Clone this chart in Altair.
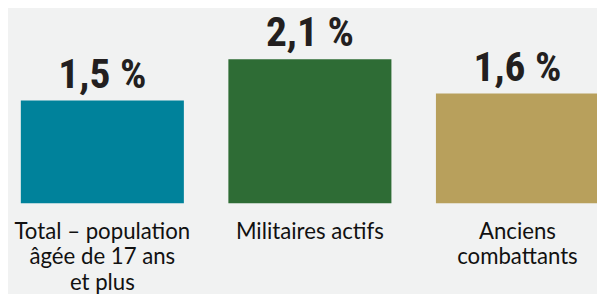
import altair as alt
import pandas as pd

categories = ["Total – population\nâgée de 17 ans\net plus", "Militaires actifs", "Anciens\ncombattants"]
values = [1.5, 2.1, 1.6]
colors = ["#00829b", "#2e6c35", "#b8a05c"]

labels = [f"{v:.1f}".replace(".", ",") + " %" for v in values]
df = pd.DataFrame({"cat": categories, "value": values, "label": labels})

x = alt.X("cat:N", sort=categories,
          scale=alt.Scale(range=[13, 599], paddingInner=0.2145, paddingOuter=0),
          axis=alt.Axis(title=None, domain=False, ticks=False, labelAngle=0,
                        labelPadding=18, labelFont="Lato", labelFontSize=22.5,
                        labelColor="#111111", labelLineHeight=25.5,
                        labelExpr="split(datum.label, '\\n')", labelLimit=300))
y = alt.Y("value:Q", scale=alt.Scale(domain=[0, 2.82], nice=False), axis=None)

bars = alt.Chart(df).mark_bar().encode(
    x=x, y=y,
    color=alt.Color("cat:N", sort=categories, scale=alt.Scale(domain=categories, range=colors), legend=None),
)
text = alt.Chart(df).mark_text(baseline="alphabetic", dy=-13, font="Roboto Condensed, Roboto",
                               fontWeight="bold", fontSize=42, color="#231f20").encode(
    x=x, y=y, text="label:N")

chart = (bars + text).properties(
    width=597, height=196,
    background="#f1f2f2",
    padding={"left": 0, "top": 0, "right": 0, "bottom": 90},
    autosize=alt.AutoSizeParams(type="none"),
).configure_view(stroke=None)

chart.save("out.html", embed_options={"renderer": "svg", "actions": False})
